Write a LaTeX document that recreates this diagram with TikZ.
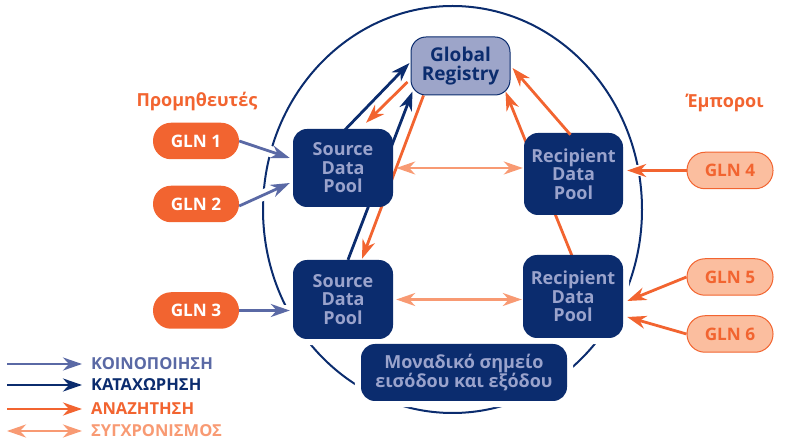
\documentclass[tikz,border=0pt]{standalone}
\usepackage{fontspec}
\setmainfont{Open Sans}
\usetikzlibrary{arrows.meta,calc}
\definecolor{navy}{HTML}{0B2C6E}
\definecolor{lav}{HTML}{9AA3CC}
\definecolor{grfill}{HTML}{9DA5C9}
\definecolor{lavarrow}{HTML}{5A69A5}
\definecolor{orng}{HTML}{F26430}
\definecolor{lorng}{HTML}{F89A73}
\definecolor{pillfill}{HTML}{FBBE9F}
\pgfdeclarelayer{bg}
\pgfdeclarelayer{halo}
\pgfdeclarelayer{lines}
\pgfsetlayers{bg,halo,lines,main}
\begin{document}
\begin{tikzpicture}[x=1pt,y=-1pt,
  poolbox/.style={fill=navy, text=lav, rounded corners=14pt, inner sep=0pt, align=center,
    minimum width=100pt, font=\bfseries\fontsize{18}{18.5}\selectfont},
  pill/.style={fill=orng, text=white, rounded corners=18pt, inner sep=0pt,
    minimum width=86pt, minimum height=36.5pt, font=\bfseries\fontsize{17.2}{18}\selectfont},
  lpill/.style={pill, fill=pillfill, draw=orng, line width=1pt, text=orng},
  tip/.style={},
  arr/.style={line width=2.8pt, -{Stealth[length=19pt,width=13pt,inset=6pt]}},
  darr/.style={line width=2.8pt, {Stealth[length=19pt,width=13pt,inset=6pt]}-{Stealth[length=19pt,width=13pt,inset=6pt]}},
  notif/.style={arr, lavarrow},
  regis/.style={arr, navy},
  search/.style={arr, orng},
  sync/.style={darr, lorng},
  haloline/.style={white, line width=11pt},
  halobox/.style={white, line width=12pt, rounded corners=14pt},
  title/.style={text=orng, font=\bfseries\fontsize{18}{20}\selectfont},
  legtext/.style={anchor=west, inner sep=0pt, font=\bfseries\fontsize{16.5}{18}\selectfont}
]
\useasboundingbox (0,0) rectangle (785,446);

% nodes
\node[fill=grfill, draw=navy, line width=1pt, text=navy, rounded corners=15pt, inner sep=0pt,
  align=center, minimum width=99pt, minimum height=58pt,
  font=\bfseries\fontsize{19}{19.5}\selectfont] (gr) at (460.5,66) {Global\\Registry};
\node[poolbox, minimum height=78pt] (s1) at (343,168) {Source\\Data\\Pool};
\node[poolbox, minimum height=79pt] (s2) at (343,299.5) {Source\\Data\\Pool};
\node[poolbox, minimum width=99pt, minimum height=82pt] (r1) at (573.5,174) {Recipient\\Data\\Pool};
\node[poolbox, minimum height=83pt] (r2) at (573,296.5) {Recipient\\Data\\Pool};
\node[poolbox, minimum width=206pt, minimum height=57pt, font=\bfseries\fontsize{18}{18.5}\selectfont] (mb) at (464,372.5) {Μοναδικό σημείο\\εισόδου και εξόδου};

\node[pill] (g1) at (196,141) {GLN 1};
\node[pill] (g2) at (196,204) {GLN 2};
\node[pill] (g3) at (196,310.5) {GLN 3};
\node[lpill] (g4) at (730,170.5) {GLN 4};
\node[lpill] (g5) at (730,277) {GLN 5};
\node[lpill] (g6) at (730,334) {GLN 6};

\node[title] (tp) at (197,102) {Προμηθευτές};
\node[title] (te) at (725,103) {Έμποροι};

% ellipse
\begin{pgfonlayer}{bg}
\draw[navy, line width=2pt] (452.5,209.5) ellipse [x radius=189.5pt, y radius=203.5pt];
\end{pgfonlayer}

% halos
\begin{pgfonlayer}{halo}
\foreach \n in {s1,s2,r1,r2,mb}
  \draw[halobox] (\n.south west) rectangle (\n.north east);
\draw[haloline] (g1.east) -- ($(s1.west)+(-3,-10)$);
\draw[haloline] ($(g2.east)+(0,2)$) -- ($(s1.west)+(-3,15)$);
\draw[haloline] (g3.east) -- (g3.east -| s2.west);
\draw[haloline] (g4.west) -- (g4.west -| r1.east);
\draw[haloline] (g5.west) -- ($(r2.east)+(4,4.5)$);
\draw[haloline] (g6.west) -- ($(r2.east)+(4,20.5)$);
\end{pgfonlayer}

% lines passing behind boxes
\begin{pgfonlayer}{lines}
\draw[regis] ($(s2.north)+(5,0)$) -- ($(gr.south west)+(2,-4)$);
\draw[search] ($(gr.south west)+(13,0)$) -- ($(s2.north)+(19,-1)$);
\draw[search] ($(r2.north)+(-1,1)$) -- ($(gr.south east)+(-5,-4)$);
\end{pgfonlayer}

% arrows on top
\draw[notif] (g1.east) -- ($(s1.west)+(-3,-10)$);
\draw[notif] ($(g2.east)+(0,2)$) -- ($(s1.west)+(-3,15)$);
\draw[notif] (g3.east) -- ($(g3.east -| s2.west)+(-3,0)$);
\draw[search] (g4.west) -- ($(g4.west -| r1.east)+(4,0)$);
\draw[search] (g5.west) -- ($(r2.east)+(4,4.5)$);
\draw[search] (g6.west) -- ($(r2.east)+(4,20.5)$);

\draw[regis] ($(s1.north)+(2,1)$) -- ($(gr.west)+(-1,-3)$);
\draw[search] ($(gr.west)+(-3,16)$) -- ($(s1.north)+(23,-6)$);
\draw[search] ($(r1.north)+(-3,2)$) -- ($(gr.east)+(2,2)$);

\draw[sync] ($(s1.east)+(3,0)$) -- ($(s1.east -| r1.west)+(-1,0)$);
\draw[sync] ($(s2.east)+(3,0)$) -- ($(s2.east -| r2.west)+(-1,0)$);

% legend
\coordinate (la1) at (7,364);  \coordinate (lb1) at (82,364);
\coordinate (la2) at (7,385);  \coordinate (lb2) at (82,385);
\coordinate (la3) at (7,409);  \coordinate (lb3) at (82,409);
\coordinate (la4) at (7,431);  \coordinate (lb4) at (82,431);
\draw[notif] (la1) -- (lb1);
\draw[regis] (la2) -- (lb2);
\draw[search] (la3) -- (lb3);
\draw[sync] (la4) -- (lb4);
\node[legtext, text=lavarrow] (lt1) at (91,364) {ΚΟΙΝΟΠΟΙΗΣΗ};
\node[legtext, text=navy] (lt2) at (91,385) {ΚΑΤΑΧΩΡΗΣΗ};
\node[legtext, text=orng] (lt3) at (91,409) {ΑΝΑΖΗΤΗΣΗ};
\node[legtext, text=lorng] (lt4) at (91,431) {ΣΥΓΧΡΟΝΙΣΜΟΣ};
\end{tikzpicture}
\end{document}
